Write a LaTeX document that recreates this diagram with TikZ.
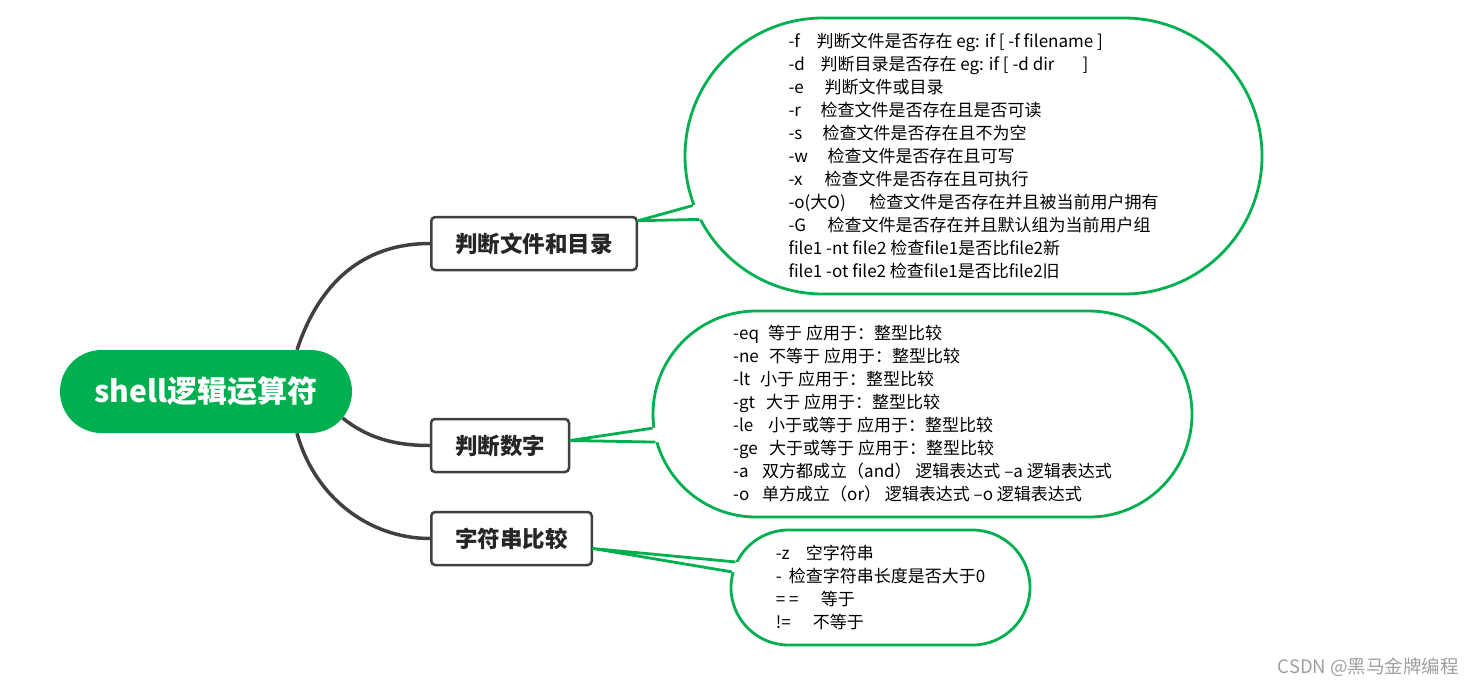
\documentclass[tikz,border=0pt]{standalone}
\usepackage{fontspec}
\setmainfont{Noto Sans CJK SC}
\usetikzlibrary{shapes.misc,calc}
\definecolor{mindgreen}{RGB}{0,176,80}
\definecolor{linegray}{RGB}{64,64,64}
\pgfdeclarelayer{bg}
\pgfsetlayers{bg,main}

\begin{document}
\begin{tikzpicture}[x=1pt,y=-1pt,
  root/.style={rounded rectangle,fill=mindgreen,text=white,font=\fontsize{30}{36}\selectfont\bfseries,minimum width=292pt,minimum height=83pt,inner sep=0pt},
  topic/.style={draw=linegray,line width=2.5pt,rounded corners=4pt,fill=white,text=black!85,font=\fontsize{22.5}{27}\selectfont\bfseries,minimum height=53pt,inner xsep=24pt,inner ysep=0pt},
  bubble/.style={rounded rectangle,draw=mindgreen,line width=2.8pt,fill=white,align=left,font=\fontsize{17}{23}\selectfont,inner sep=0pt},
  branch/.style={linegray,line width=3.5pt},
  callout/.style={mindgreen,line width=2.8pt,line join=round}]
 \useasboundingbox (0,0) rectangle (1474,686);

 % main topic and branches
 \node[root] (root) at (206,391.5) {shell逻辑运算符};
 \node[topic] (box1) at (534,243.5) {判断文件和目录};
 \node[topic] (box2) at (500,445.5) {判断数字};
 \node[topic] (box3) at (511.5,538.5) {字符串比较};
 \begin{pgfonlayer}{bg}
 \draw[branch] ([xshift=91pt]root.north) .. controls +(25,-75) and +(-60,0) .. (box1.west);
 \draw[branch] (root.-11) .. controls +(25,20) and +(-35,0) .. (box2.west);
 \draw[branch] ([xshift=91pt]root.south) .. controls +(18,65) and +(-60,0) .. (box3.west);
 \end{pgfonlayer}

 % notes
 \node[bubble,minimum width=577pt,minimum height=276pt] (bub1) at (973.5,156) {%
  \makebox[28pt][l]{-f}判断文件是否存在 eg: if [ -f filename ]\\
  \makebox[32pt][l]{-d}判断目录是否存在 eg: if [ -d dir\hspace{28pt}]\\
  \makebox[36pt][l]{-e}判断文件或目录\\
  \makebox[32pt][l]{-r}检查文件是否存在且是否可读\\
  \makebox[34pt][l]{-s}检查文件是否存在且不为空\\
  \makebox[39pt][l]{-w}检查文件是否存在且可写\\
  \makebox[36pt][l]{-x}检查文件是否存在且可执行\\
  \makebox[81pt][l]{-o(大O)}检查文件是否存在并且被当前用户拥有\\
  \makebox[39pt][l]{-G}检查文件是否存在并且默认组为当前用户组\\
  file1 -nt file2 检查file1是否比file2新\\
  file1 -ot file2 检查file1是否比file2旧};
 \node[bubble,minimum width=539pt,minimum height=206pt] (bub2) at (922.5,414) {%
  \makebox[35pt][l]{-eq}等于 应用于：整型比较\\
  \makebox[36pt][l]{-ne}不等于 应用于：整型比较\\
  \makebox[27pt][l]{-lt}小于 应用于：整型比较\\
  \makebox[33pt][l]{-gt}大于 应用于：整型比较\\
  \makebox[35pt][l]{-le}小于或等于 应用于：整型比较\\
  \makebox[36pt][l]{-ge}大于或等于 应用于：整型比较\\
  \makebox[29pt][l]{-a}双方都成立（and） 逻辑表达式 –a 逻辑表达式\\
  \makebox[29pt][l]{-o}单方成立（or） 逻辑表达式 –o 逻辑表达式};
 \node[bubble,minimum width=299pt,minimum height=115pt] (bub3) at (880.5,587.5) {%
  \makebox[30pt][l]{-z}空字符串\\
  \makebox[13pt][l]{-}检查字符串长度是否大于0\\
  \makebox[45pt][l]{= =}等于\\
  \makebox[37pt][l]{!=}不等于};

 % callout tails
 \coordinate (tip1) at ([yshift=-5pt]box1.north east);
 \coordinate (tip2) at ([yshift=5pt]box2.east);
 \coordinate (tip3) at ([yshift=-10pt]box3.east);
 \fill[white] (tip1) -- ($(tip1)!1.1!(bub1.190)$) -- ($(tip1)!1.1!(bub1.193)$) -- cycle;
 \draw[callout] (bub1.190) -- (tip1) -- (bub1.193);
 \fill[white] (tip2) -- ($(tip2)!1.1!(bub2.183)$) -- ($(tip2)!1.1!(bub2.186)$) -- cycle;
 \draw[callout] (bub2.183) -- (tip2) -- (bub2.186);
 \fill[white] (tip3) -- ($(tip3)!1.06!(bub3.170)$) -- ($(tip3)!1.06!(bub3.174)$) -- cycle;
 \draw[callout] (bub3.170) -- (tip3) -- (bub3.174);

 \node[anchor=east,text=gray!75,font=\fontsize{18.5}{22}\selectfont,inner sep=0pt] (mark) at (1459,667) {CSDN @黑马金牌编程};
\end{tikzpicture}
\end{document}
